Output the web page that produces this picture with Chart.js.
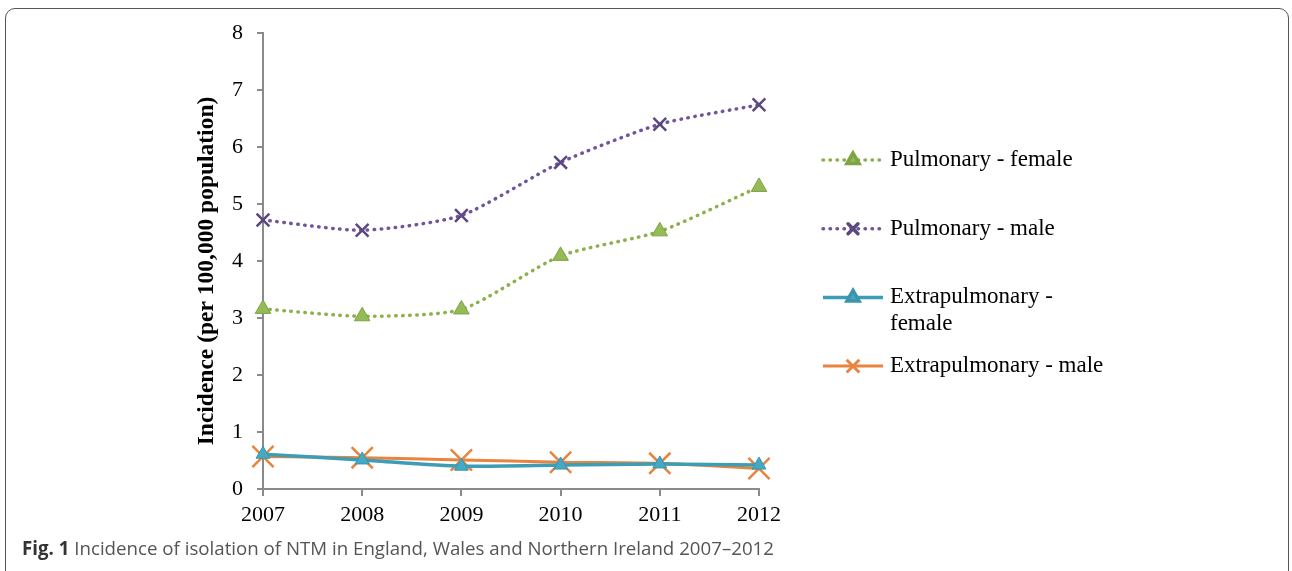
<!DOCTYPE html>
<html>
<head>
<meta charset="utf-8">
<script src="https://cdn.jsdelivr.net/npm/chart.js@4.4.0/dist/chart.umd.min.js"></script>
<style>
  html, body { margin: 0; padding: 0; background: #fff; }
  body { width: 1292px; height: 571px; position: relative; overflow: hidden; }
  #frame {
    position: absolute; left: 5px; top: 8px; width: 1284px; height: 600px;
    border: 1px solid #555; border-radius: 10px; box-sizing: border-box;
  }
  #wrap { position: absolute; left: 0; top: 0; width: 1292px; height: 571px; }
  #caption {
    position: absolute; left: 22px; top: 535px;
    font-family: "Open Sans", sans-serif; font-size: 18.7px; color: #555;
    white-space: nowrap;
  }
  #caption b { color: #333; }
</style>
</head>
<body>
<div id="frame"></div>
<div id="wrap"><canvas id="chart" width="1292" height="571"></canvas></div>
<div id="caption"><b>Fig. 1</b> Incidence of isolation of NTM in England, Wales and Northern Ireland 2007–2012</div>
<script>
  // data
  const years = ["2007", "2008", "2009", "2010", "2011", "2012"];
  const pulmonaryFemale = [3.16, 3.03, 3.15, 4.09, 4.52, 5.30];
  const pulmonaryMale = [4.72, 4.54, 4.80, 5.73, 6.40, 6.74];
  const extraFemale = [0.61, 0.51, 0.40, 0.42, 0.44, 0.42];
  const extraMale = [0.57, 0.55, 0.51, 0.47, 0.45, 0.36];
  const yMin = 0, yMax = 8, yStep = 1;
  const yTitle = "Incidence (per 100,000 population)";

  const serif = "'Liberation Serif', 'Times New Roman', serif";
  const dots = [0.5, 6.5];

  // legend on the right + axis title (placed a bit lower than chart.js would)
  const sideLegend = {
    id: "sideLegend",
    afterDraw(chart) {
      const ctx = chart.ctx;
      ctx.save();
      ctx.translate(207, 271);
      ctx.rotate(-Math.PI / 2);
      ctx.font = "bold 23.5px " + serif;
      ctx.textAlign = "center";
      ctx.textBaseline = "middle";
      ctx.fillStyle = "#000";
      ctx.fillText(yTitle, 0, 0);
      ctx.restore();

      let y = 160;
      ctx.save();
      ctx.font = "23px " + serif;
      ctx.textBaseline = "middle";
      chart.data.datasets.forEach((ds) => {
        ctx.strokeStyle = ds.borderColor;
        ctx.lineWidth = ds.borderWidth;
        ctx.lineCap = ds.borderDash.length ? "round" : "butt";
        ctx.setLineDash(ds.borderDash);
        ctx.beginPath();
        ctx.moveTo(823, y);
        ctx.lineTo(883, y);
        ctx.stroke();
        ctx.setLineDash([]);
        ctx.fillStyle = ds.pointBackgroundColor;
        ctx.strokeStyle = ds.pointBorderColor;
        Chart.helpers.drawPoint(ctx, {
          pointStyle: ds.pointStyle,
          radius: ds.legendRadius,
          borderWidth: ds.pointBorderWidth,
          rotation: 0,
        }, 853, y);
        const words = ds.label.split(" ");
        const lines = [];
        let cur = "";
        words.forEach((w) => {
          const t = cur ? cur + " " + w : w;
          if (ctx.measureText(t).width > 225 && cur) {
            lines.push(cur);
            cur = w;
          } else cur = t;
        });
        lines.push(cur);
        ctx.fillStyle = "#000";
        lines.forEach((l, i) => ctx.fillText(l, 890, y + i * 27));
        y += 68.7;
      });
      ctx.restore();
    },
  };

  new Chart(document.getElementById("chart").getContext("2d"), {
    type: "line",
    data: {
      labels: years,
      datasets: [
        {
          label: "Pulmonary - female",
          data: pulmonaryFemale,
          borderColor: "#8cb04a",
          borderWidth: 3.5,
          borderDash: dots,
          borderCapStyle: "round",
          pointStyle: "triangle",
          pointRadius: 9,
          legendRadius: 7,
          pointBackgroundColor: "#94bb55",
          pointBorderColor: "#7ea343",
          pointBorderWidth: 1,
        },
        {
          label: "Pulmonary - male",
          data: pulmonaryMale,
          borderColor: "#6f559e",
          borderWidth: 3.5,
          borderDash: dots,
          borderCapStyle: "round",
          pointStyle: "crossRot",
          pointRadius: 9,
          legendRadius: 7,
          pointBackgroundColor: "#5b4880",
          pointBorderColor: "#5b4880",
          pointBorderWidth: 2.5,
        },
        {
          label: "Extrapulmonary - female",
          data: extraFemale,
          borderColor: "#3d9db7",
          borderWidth: 3.5,
          borderDash: [],
          pointStyle: "triangle",
          pointRadius: 8,
          legendRadius: 7,
          pointBackgroundColor: "#45a9c4",
          pointBorderColor: "#3a94ad",
          pointBorderWidth: 1,
        },
        {
          label: "Extrapulmonary - male",
          data: extraMale,
          borderColor: "#e8843d",
          borderWidth: 3,
          borderDash: [],
          pointStyle: "crossRot",
          pointRadius: 15,
          legendRadius: 9,
          pointBackgroundColor: "#e8843d",
          pointBorderColor: "#e8843d",
          pointBorderWidth: 2.5,
        },
      ],
    },
    options: {
      responsive: false,
      animation: false,
      layout: { padding: { left: 190, top: 33, right: 533, bottom: 30 } },
      elements: { line: { tension: 0.22 } },
      plugins: { legend: { display: false }, tooltip: { enabled: false } },
      scales: {
        x: {
          type: "category",
          offset: false,
          grid: { drawOnChartArea: false, color: "#8a8a8a", lineWidth: 2, tickLength: 7 },
          border: { color: "#8a8a8a", width: 2 },
          ticks: { color: "#000", font: { family: serif, size: 22 }, padding: 6, maxRotation: 0 },
          afterFit(s) { s.height = 52; },
        },
        y: {
          min: yMin,
          max: yMax,
          grid: { drawOnChartArea: false, color: "#8a8a8a", lineWidth: 2, tickLength: 6 },
          border: { color: "#8a8a8a", width: 2 },
          ticks: { stepSize: yStep, color: "#000", font: { family: serif, size: 22 }, padding: 14 },
          afterFit(s) { s.width = 73; },
        },
      },
    },
    plugins: [sideLegend],
  });
</script>
</body>
</html>
